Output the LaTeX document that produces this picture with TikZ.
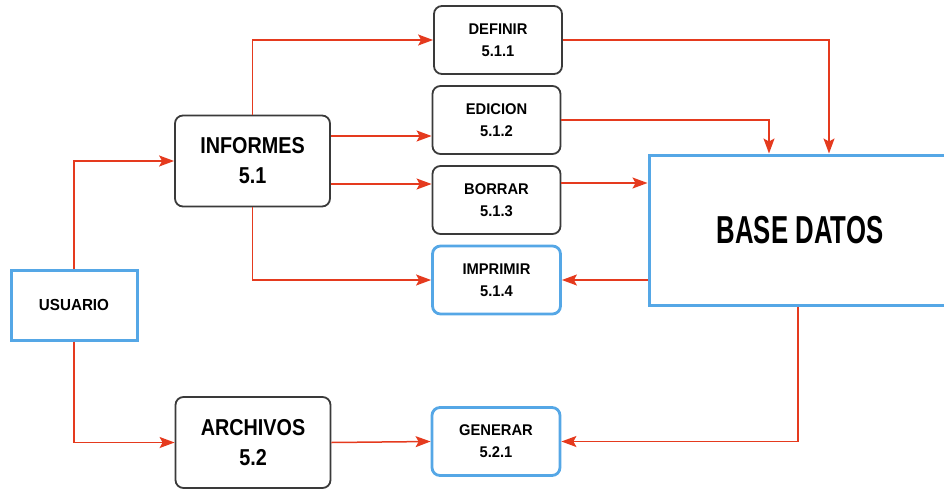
\documentclass[tikz,border=0pt]{standalone}
\usepackage{fontspec}
\setmainfont{Liberation Sans}
\newfontfamily\smallf[FakeStretch=0.95]{Liberation Sans}
\newfontfamily\midf[FakeStretch=0.86]{Liberation Sans}
\newfontfamily\bigf[FakeStretch=0.66]{Liberation Sans}
\usetikzlibrary{arrows.meta,calc}
\definecolor{lred}{HTML}{E53A1E}
\definecolor{lblue}{HTML}{55A7E6}
\definecolor{lgray}{HTML}{3A3A3A}
\tikzset{
  proc/.style={draw=lgray,line width=1.8pt,rounded corners=8pt,fill=white,align=center,inner sep=0pt,
    minimum width=128pt,minimum height=68pt,font=\smallf\fontsize{15.5}{22}\selectfont\bfseries},
  bigproc/.style={proc,minimum width=155pt,minimum height=91pt,font=\midf\fontsize{23}{30}\selectfont\bfseries},
  bproc/.style={proc,draw=lblue,line width=2.8pt},
  ent/.style={draw=lblue,line width=3pt,fill=white,align=center,inner sep=0pt},
  arr/.style={draw=lred,line width=1.5pt,-{Stealth[length=15pt,width=11pt,inset=3pt]}}
}
\begin{document}
\begin{tikzpicture}[x=1pt,y=-1pt]
\useasboundingbox (0,0) rectangle (944,490);
\node[ent,minimum width=126pt,minimum height=70pt,font=\smallf\fontsize{16}{20}\selectfont\bfseries] (usuario) at (74,305) {USUARIO};
\node[bigproc] (informes) at (252.5,161) {INFORMES\\5.1};
\node[bigproc] (archivos) at (253,442.5) {ARCHIVOS\\5.2};
\node[proc] (definir) at (498,40) {DEFINIR\\5.1.1};
\node[proc] (edicion) at (496.5,120) {EDICION\\5.1.2};
\node[proc] (borrar) at (496.5,200) {BORRAR\\5.1.3};
\node[bproc] (imprimir) at (496.5,280) {IMPRIMIR\\5.1.4};
\node[bproc] (generar) at (496,441.5) {GENERAR\\5.2.1};
\node[ent,minimum width=298pt,minimum height=150pt,font=\bigf\fontsize{39}{44}\selectfont\bfseries] (base) at (798,230) {\hspace*{4pt}BASE DATOS};
\draw[arr] (usuario.north) |- (informes.west);
\draw[arr] (usuario.south) |- (archivos.west);
\draw[arr] (informes.north) |- (definir.west);
\coordinate (e1) at ([yshift=-16pt]edicion.west);
\draw[arr] (informes.east |- e1) -- (e1);
\coordinate (b0) at ([yshift=16pt]borrar.west);
\draw[arr] (informes.east |- b0) -- (b0);
\draw[arr] (informes.south) |- (imprimir.west);
\draw[arr] (definir.east) -| ([xshift=31pt]base.north);
\draw[arr] (edicion.east) -| ([xshift=-29pt]base.north);
\coordinate (b1) at ([yshift=17pt]borrar.east);
\draw[arr] (b1) -- (b1 -| base.west);
\draw[arr] (base.west |- imprimir.east) -- (imprimir.east);
\draw[arr] (base.south) |- (generar.east);
\draw[arr] (archivos.east) -- (generar.west);
\end{tikzpicture}
\end{document}
